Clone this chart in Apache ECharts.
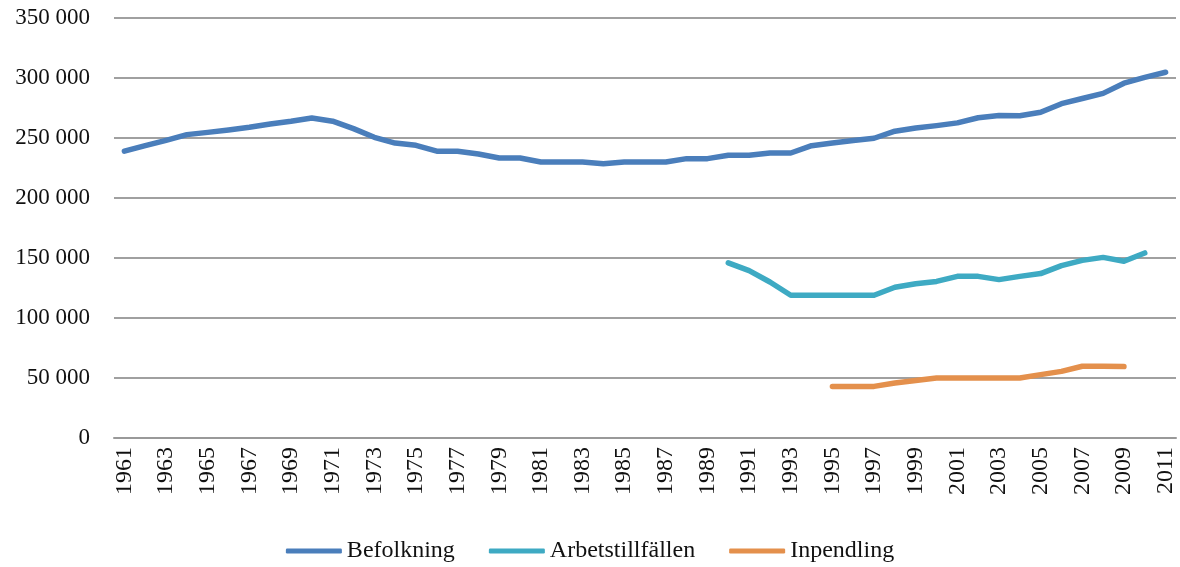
<!DOCTYPE html>
<html>
<head>
<meta charset="utf-8">
<script src="https://cdn.jsdelivr.net/npm/echarts@6/dist/echarts.min.js"></script>
<style>
html,body{margin:0;padding:0;background:#fff;}
#c{width:1180px;height:567px;}
</style>
</head>
<body>
<div id="c"></div>
<script>
const years = [];
for (let y = 1961; y <= 2011; y++) years.push(String(y));

const befolkning = [
  239000, 243600, 248000, 252800, 254700, 256700, 258900, 261700, 264000, 266700,
  264000, 257800, 250600, 245800, 243900, 239000, 239000, 236700, 233300, 233300,
  230000, 230000, 230000, 228600, 230000, 230000, 230000, 232800, 232800, 235600,
  235600, 237500, 237500, 243600, 245800, 248000, 249800, 255700, 258300, 260300,
  262600, 266900, 268800, 268600, 271400, 278600, 282900, 287200, 295700, 300500,
  304800
];

// 1990 - 2010
const arbetsYears = ['1990','1991','1992','1993','1994','1995','1996','1997','1998','1999','2000',
  '2001','2002','2003','2004','2005','2006','2007','2008','2009','2010'];
const arbetstillfallen = [146000, 139500, 130000, 119000, 119000, 119000, 119000, 119000, 125600, 128500, 130500,
  134700, 134700, 132000, 134700, 137000, 143700, 148000, 150500, 147300, 154200];

// 1995 - 2009
const inpendYears = ['1995','1996','1997','1998','1999','2000','2001','2002','2003','2004','2005','2006','2007','2008','2009'];
const inpendling = [43000, 43000, 43000, 45800, 48000, 50000, 50000, 50000, 50000, 50000, 52800, 55500, 59800, 59800, 59500];

const seriesNames = ['Befolkning', 'Arbetstillfällen', 'Inpendling'];
const colors = ['#4a7ebb', '#3eaac3', '#e4904c'];

function align(subYears, vals) {
  return years.map(y => {
    const i = subYears.indexOf(y);
    return i >= 0 ? vals[i] : null;
  });
}

const chart = echarts.init(document.getElementById('c'), null, {renderer: 'canvas'});
const font = '"Liberation Serif", "DejaVu Serif", serif';

function fmt(v) {
  if (v === 0) return '0';
  const s = String(v);
  return s.slice(0, s.length - 3) + ' ' + s.slice(-3);
}

chart.setOption({
  animation: false,
  color: colors,
  textStyle: {fontFamily: font},
  grid: {left: 114, right: 4, top: 18, bottom: 129, containLabel: false},
  legend: {
    bottom: -1,
    left: 'center',
    itemWidth: 56,
    itemHeight: 5,
    itemGap: 34,
    icon: 'roundRect',
    textStyle: {fontFamily: font, fontSize: 24, color: '#111'},
    data: seriesNames
  },
  xAxis: {
    type: 'category',
    data: years,
    boundaryGap: true,
    axisLine: {show: true, lineStyle: {color: '#999', width: 2}},
    axisTick: {show: false},
    axisLabel: {
      interval: 1,
      rotate: 90,
      margin: 9,
      fontFamily: font,
      fontSize: 24,
      color: '#111'
    }
  },
  yAxis: {
    type: 'value',
    min: 0,
    max: 350000,
    interval: 50000,
    axisLine: {show: false},
    axisTick: {show: false},
    splitLine: {lineStyle: {color: '#a0a0a0', width: 2}},
    axisLabel: {
      margin: 24,
      fontFamily: font,
      fontSize: 23,
      color: '#111',
      formatter: fmt
    }
  },
  series: [
    {name: seriesNames[0], type: 'line', data: befolkning, symbol: 'none', lineStyle: {width: 5.5, cap: 'round', join: 'round'}},
    {name: seriesNames[1], type: 'line', data: align(arbetsYears, arbetstillfallen), symbol: 'none', connectNulls: false, lineStyle: {width: 5.5, cap: 'round', join: 'round'}},
    {name: seriesNames[2], type: 'line', data: align(inpendYears, inpendling), symbol: 'none', connectNulls: false, lineStyle: {width: 5.5, cap: 'round', join: 'round'}}
  ]
});
</script>
</body>
</html>
